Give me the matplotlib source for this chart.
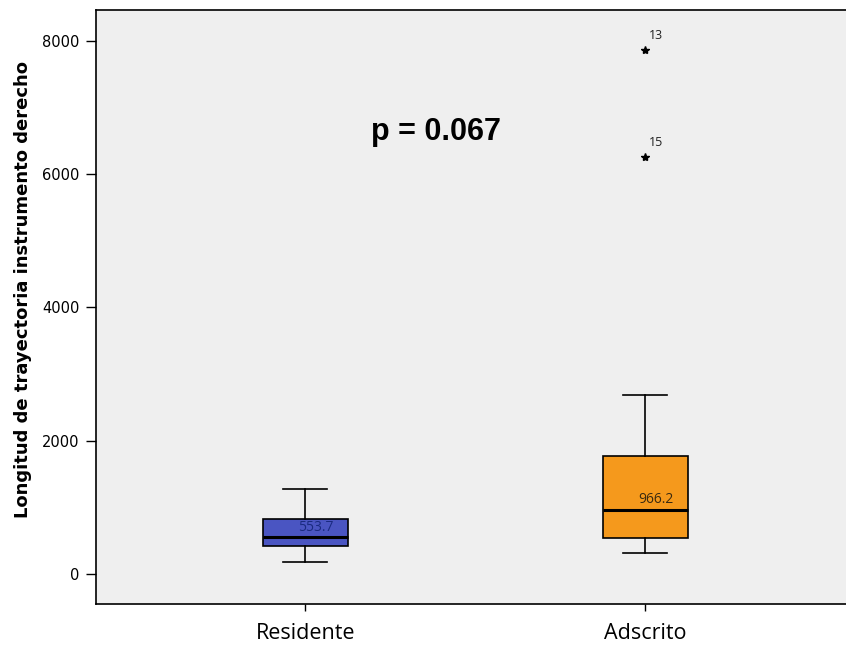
import matplotlib
matplotlib.use("Agg")
import matplotlib.pyplot as plt

groups = ["Residente", "Adscrito"]
whislo = [180, 315]
q1 = [420, 540]
med = [553.7, 966.2]
q3 = [824, 1768]
whishi = [1273, 2682]
outlier_vals = [[], [7865, 6262]]
outlier_ids = [[], ["13", "15"]]
colors = ["#4a55c2", "#f5991c"]
p_text = "p = 0.067"

plt.rcParams['font.family'] = ['Open Sans', 'DejaVu Sans']

fig = plt.figure(figsize=(8.46, 6.52), dpi=100)
ax = fig.add_axes([96/846, 1 - 604/652, (880 - 96)/846, (604 - 10)/652])
ax.set_facecolor("#efefef")

stats = []
for i, g in enumerate(groups):
    stats.append({"label": g, "whislo": whislo[i], "q1": q1[i], "med": med[i],
                  "q3": q3[i], "whishi": whishi[i], "fliers": []})

pos = [1, 2]
bp = ax.bxp(stats, positions=pos, widths=0.25, patch_artist=True, showfliers=False,
            boxprops=dict(linewidth=1.2, edgecolor="black"),
            medianprops=dict(color="black", linewidth=2.2),
            whiskerprops=dict(color="black", linewidth=1.2),
            capprops=dict(color="black", linewidth=1.2), capwidths=0.13)
for patch, c in zip(bp["boxes"], colors):
    patch.set_facecolor(c)

for i in range(len(groups)):
    for v, lab in zip(outlier_vals[i], outlier_ids[i]):
        ax.plot(pos[i], v, marker="*", color="black", markersize=6, linestyle="none")
        ax.text(pos[i] + 0.01, v + 120, lab, fontsize=9, ha="left", va="bottom", color="#222222")
    ax.text(pos[i] + 0.03, med[i] + 40, f"{med[i]:.1f}", fontsize=10, ha="center", va="bottom",
            color="#1a2a80" if i == 0 else "#3a2a10")

ax.text(1.385, 6640, p_text, fontsize=22, fontweight="bold", ha="center", va="center",
        family=["Liberation Sans", "DejaVu Sans"])

ax.set_xlim(0.385, 2.69)
ax.set_ylim(-449, 8464)
ax.set_yticks([0, 2000, 4000, 6000, 8000])
ax.set_xticks(pos)
ax.set_xticklabels(groups, fontsize=15.5)
ax.tick_params(axis="x", length=5, width=1, pad=9)
ax.tick_params(axis="y", length=7, width=1, pad=5)
for t in ax.get_yticklabels():
    t.set_fontfamily(["DejaVu Sans"])
    t.set_fontsize(10.5)
ax.set_ylabel("Longitud de trayectoria instrumento derecho", fontsize=13, fontweight="bold",
              family=["DejaVu Sans"])
ax.yaxis.set_label_coords(-0.081, 0.53)
for s in ax.spines.values():
    s.set_linewidth(1.2)

fig.savefig("out.png", dpi=100)
